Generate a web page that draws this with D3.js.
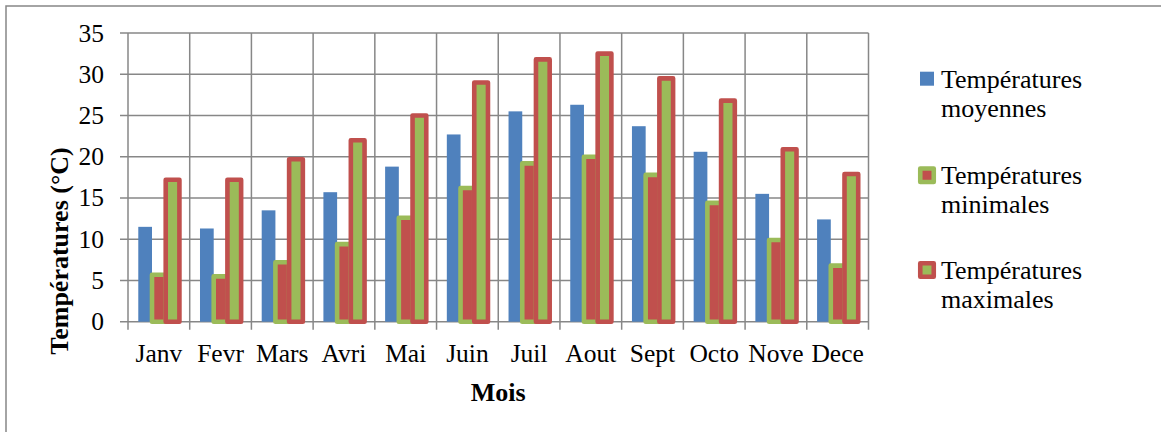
<!DOCTYPE html>
<html>
<head>
<meta charset="utf-8">
<script src="https://cdn.jsdelivr.net/npm/d3@7"></script>
<style>
  body { margin: 0; background: #fff; }
  svg text { font-family: "Liberation Serif", "DejaVu Serif", serif; fill: #000; }
</style>
</head>
<body>
<div id="chart"></div>
<script>
// monthly temperatures (°C)
let months = ["Janv", "Fevr", "Mars", "Avri", "Mai", "Juin", "Juil", "Aout", "Sept", "Octo", "Nove", "Dece"];
let tMoy = [11.5, 11.3, 13.5, 15.7, 18.8, 22.7, 25.5, 26.3, 23.7, 20.6, 15.5, 12.4];
let tMin = [5.7, 5.5, 7.2, 9.4, 12.6, 16.2, 19.2, 20.0, 17.8, 14.4, 9.9, 6.8];
let tMax = [17.2, 17.2, 19.7, 22.0, 25.0, 29.0, 31.8, 32.5, 29.5, 26.8, 20.9, 17.9];
let seriesNames = ["Températures moyennes", "Températures minimales", "Températures maximales"];
let yTicks = [0, 5, 10, 15, 20, 25, 30, 35];

let W = 1161, H = 432;
let plot = {left: 128, right: 868.5, top: 33, bottom: 321.7};
let grey = "#878787";
let serif = "'Liberation Serif', 'DejaVu Serif', serif";

// fill / stroke per series
let styles = [
    {fill: "#4F81BD", stroke: "none"},
    {fill: "#C0504D", stroke: "#9BBB59"},
    {fill: "#9BBB59", stroke: "#C0504D"}
];

let svg = d3.select("#chart").append("svg")
    .attr("width", W)
    .attr("height", H)
    .attr("font-family", serif);

// outer frame
svg.append("rect")
    .attr("x", 6).attr("y", 6)
    .attr("width", W + 10).attr("height", H + 10)
    .attr("fill", "none")
    .attr("stroke", grey)
    .attr("stroke-width", 1.5);

// Scales
let x = d3.scaleBand()
    .domain(months)
    .range([plot.left, plot.right])
    .padding(0);

// gap width 150% => 0.75 step each side
let xs = d3.scaleBand()
    .domain([0, 1, 2])
    .range([0, x.bandwidth()])
    .paddingInner(0)
    .paddingOuter(0.75);

let y = d3.scaleLinear()
    .domain([0, 35])
    .range([plot.bottom, plot.top]);

// gridlines
svg.append("g")
    .selectAll("line")
    .data(yTicks)
    .join("line")
    .attr("x1", plot.left - 8)
    .attr("x2", plot.right)
    .attr("y1", d => y(d))
    .attr("y2", d => y(d))
    .attr("stroke", grey)
    .attr("stroke-width", 1.5);

let bounds = months.map(m => x(m)).concat([plot.right]);
svg.append("g")
    .selectAll("line")
    .data(bounds)
    .join("line")
    .attr("x1", d => d)
    .attr("x2", d => d)
    .attr("y1", plot.top)
    .attr("y2", plot.bottom + 8)
    .attr("stroke", grey)
    .attr("stroke-width", 1.5);

// y tick labels
svg.append("g")
    .selectAll("text")
    .data(yTicks)
    .join("text")
    .attr("x", 104)
    .attr("y", d => y(d) + 8.5)
    .attr("text-anchor", "end")
    .attr("font-family", serif)
    .attr("font-size", "25.5px")
    .text(d => d);

// x labels
svg.append("g")
    .selectAll("text")
    .data(months)
    .join("text")
    .attr("x", d => x(d) + x.bandwidth() / 2)
    .attr("y", 361.5)
    .attr("text-anchor", "middle")
    .attr("font-family", serif)
    .attr("font-size", "25.5px")
    .text(d => d);

// bars, series by series
let allSeries = [tMoy, tMin, tMax];
allSeries.forEach((vals, i) => {
    svg.append("g")
        .selectAll("rect")
        .data(vals)
        .join("rect")
        .attr("x", (d, j) => x(months[j]) + xs(i))
        .attr("y", d => y(d))
        .attr("width", xs.bandwidth())
        .attr("height", d => y(0) - y(d))
        .attr("fill", styles[i].fill)
        .attr("stroke", styles[i].stroke)
        .attr("stroke-width", i === 0 ? 0 : 4.6)
        .attr("stroke-linejoin", "round");
});

// axis titles
svg.append("text")
    .attr("transform", "translate(68, 251) rotate(-90)")
    .attr("text-anchor", "middle")
    .attr("font-family", serif)
    .attr("font-size", "26px")
    .attr("font-weight", "bold")
    .text("Températures (°C)");

svg.append("text")
    .attr("x", (plot.left + plot.right) / 2)
    .attr("y", 400.5)
    .attr("text-anchor", "middle")
    .attr("font-family", serif)
    .attr("font-size", "26px")
    .attr("font-weight", "bold")
    .text("Mois");

// legend
let legendY = [78.7, 175.2, 270];
let legend = svg.append("g");
seriesNames.forEach((name, i) => {
    let g = legend.append("g").attr("transform", `translate(927, ${legendY[i]})`);
    let s = i === 0 ? 14 : 13.5;
    g.append("rect")
        .attr("x", -s / 2).attr("y", -s / 2)
        .attr("width", s).attr("height", s)
        .attr("fill", styles[i].fill)
        .attr("stroke", styles[i].stroke)
        .attr("stroke-width", i === 0 ? 0 : 4.6)
        .attr("stroke-linejoin", "round");
    let words = name.split(" ");
    g.append("text")
        .attr("x", 14)
        .attr("y", 9)
        .attr("font-family", serif)
        .attr("font-size", "26px")
        .text(words[0]);
    g.append("text")
        .attr("x", 14)
        .attr("y", 38)
        .attr("font-family", serif)
        .attr("font-size", "26px")
        .text(words[1]);
});
</script>
</body>
</html>
